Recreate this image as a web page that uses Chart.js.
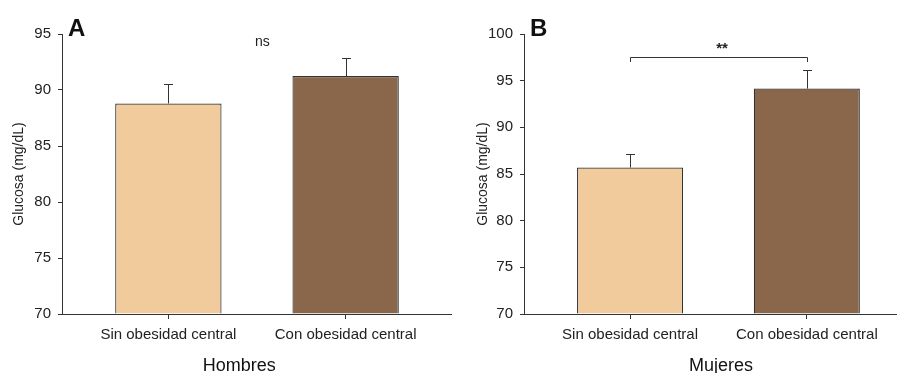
<!DOCTYPE html>
<html>
<head>
<meta charset="utf-8">
<script src="https://cdn.jsdelivr.net/npm/chart.js@4.4.1/dist/chart.umd.min.js"></script>
<style>
  body { margin: 0; background: #fff; }
  .wrap { position: relative; width: 897px; height: 373px; }
  #hombres { position: absolute; left: 0; top: 0; }
  #mujeres { position: absolute; left: 452px; top: 0; }
</style>
</head>
<body>
<div class="wrap">
  <canvas id="hombres" width="452" height="373"></canvas>
  <canvas id="mujeres" width="445" height="373"></canvas>
</div>
<script>
const categorias = ['Sin obesidad central', 'Con obesidad central'];
const hombresMedia = [88.8, 91.25];
const hombresError = [1.7, 1.65];
const mujeresMedia = [85.7, 94.15];
const mujeresError = [1.45, 2.0];
const hombresTicks = [70, 75, 80, 85, 90, 95];
const mujeresTicks = [70, 75, 80, 85, 90, 95, 100];

const colores = ['#F2CB9D', '#8A664A'];
const linea = '#333333';
const fuente = "'Liberation Sans', Arial, sans-serif";

// Error bars, panel letter, significance and group title
const anotaciones = {
  id: 'anotaciones',
  afterDatasetsDraw(chart, args, opts) {
    const ctx = chart.ctx;
    const y = chart.scales.y;
    const meta = chart.getDatasetMeta(0);
    ctx.save();
    ctx.strokeStyle = linea;
    ctx.lineWidth = 1;
    meta.data.forEach(function (bar, i) {
      const top = Math.round(y.getPixelForValue(opts.media[i] + opts.error[i])) + 0.5;
      const x = Math.round(bar.x) + 0.5;
      ctx.beginPath();
      ctx.moveTo(x, bar.y);
      ctx.lineTo(x, top);
      ctx.moveTo(x - 4.5, top);
      ctx.lineTo(x + 4.5, top);
      ctx.stroke();
    });
    ctx.restore();
  },
  afterDraw(chart, args, opts) {
    const ctx = chart.ctx;
    const x = chart.scales.x;
    const y = chart.scales.y;
    const area = chart.chartArea;
    ctx.save();
    ctx.fillStyle = '#111';
    ctx.font = 'bold 24px ' + fuente;
    ctx.textBaseline = 'alphabetic';
    ctx.textAlign = 'left';
    ctx.fillText(opts.letra, area.left + 6, 36);

    // significance mark
    ctx.fillStyle = '#222';
    ctx.font = (opts.bracket ? 'bold 15px ' : '14px ') + fuente;
    ctx.textAlign = 'center';
    ctx.textBaseline = 'middle';
    ctx.fillText(opts.signo, x.getPixelForValue(opts.signoX), y.getPixelForValue(opts.signoY));

    if (opts.bracket) {
      const yTop = Math.round(y.getPixelForValue(opts.bracket[0])) + 0.5;
      const yEnd = y.getPixelForValue(opts.bracket[1]);
      const x0 = Math.round(x.getPixelForValue(0)) + 0.5;
      const x1 = Math.round(x.getPixelForValue(1)) + 0.5;
      ctx.strokeStyle = linea;
      ctx.lineWidth = 1;
      ctx.beginPath();
      ctx.moveTo(x0, yEnd);
      ctx.lineTo(x0, yTop);
      ctx.lineTo(x1, yTop);
      ctx.lineTo(x1, yEnd);
      ctx.stroke();
    }

    // group title under the axis
    ctx.fillStyle = '#111';
    ctx.font = '18px ' + fuente;
    ctx.fillText(opts.titulo, x.getPixelForValue(opts.tituloX), chart.height - 7);
    ctx.restore();
  }
};

function crearPanel(id, media, error, ticks, ejeAncho, tituloPad, xMax, notas) {
  return new Chart(document.getElementById(id), {
    type: 'bar',
    data: {
      datasets: [{
        data: media.map(function (v, i) { return { x: i, y: v }; }),
        backgroundColor: colores,
        borderColor: linea,
        borderWidth: 1.2,
        borderSkipped: 'bottom',
        base: ticks[0],
        barPercentage: 0.6,
        categoryPercentage: 1
      }]
    },
    options: {
      responsive: false,
      animation: false,
      layout: { padding: { top: 34, right: 0, left: 0, bottom: 0 } },
      plugins: {
        legend: { display: false },
        tooltip: { enabled: false },
        anotaciones: notas
      },
      scales: {
        x: {
          type: 'linear',
          min: -0.6,
          max: xMax,
          offset: false,
          afterBuildTicks: function (scale) {
            scale.ticks = categorias.map(function (c, i) { return { value: i }; });
          },
          afterFit: function (scale) { scale.height = 59; },
          ticks: {
            autoSkip: false,
            maxRotation: 0,
            padding: 7,
            color: '#222',
            font: { family: fuente, size: 15 },
            callback: function (v) { return categorias[v]; }
          },
          grid: { offset: false, drawOnChartArea: false, drawTicks: true, tickLength: 5, color: linea },
          border: { display: true, color: linea, width: 1 }
        },
        y: {
          min: ticks[0],
          max: ticks[ticks.length - 1],
          beginAtZero: false,
          afterBuildTicks: function (scale) {
            scale.ticks = ticks.map(function (v) { return { value: v }; });
          },
          afterFit: function (scale) { scale.width = ejeAncho; },
          ticks: {
            padding: 7,
            color: '#222',
            font: { family: fuente, size: 15 }
          },
          grid: { drawOnChartArea: false, drawTicks: true, tickLength: 4, color: linea },
          border: { display: true, color: linea, width: 1 },
          title: {
            display: true,
            text: 'Glucosa (mg/dL)',
            color: '#222',
            font: { family: fuente, size: 14 },
            padding: { top: tituloPad, bottom: 0 }
          }
        }
      }
    },
    plugins: [anotaciones]
  });
}

crearPanel('hombres', hombresMedia, hombresError, hombresTicks, 62, 11, 1.6, {
  media: hombresMedia, error: hombresError, letra: 'A',
  signo: 'ns', signoX: 0.53, signoY: 94.3,
  titulo: 'Hombres', tituloX: 0.40
});

crearPanel('mujeres', mujeresMedia, mujeresError, mujeresTicks, 72, 23, 1.51, {
  media: mujeresMedia, error: mujeresError, letra: 'B',
  signo: '**', signoX: 0.52, signoY: 98.4, bracket: [97.55, 97.0],
  titulo: 'Mujeres', tituloX: 0.515
});
</script>
</body>
</html>
